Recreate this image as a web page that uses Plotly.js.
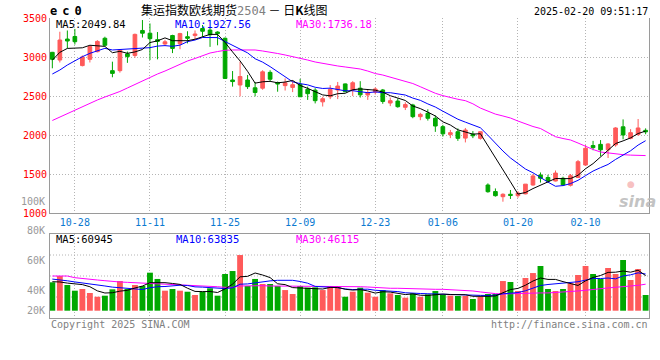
<!DOCTYPE html>
<html><head><meta charset="utf-8">
<script src="https://cdn.plot.ly/plotly-3.0.1.min.js"></script>
<style>html,body{margin:0;padding:0;background:#fff}#chart{width:660px;height:360px}</style>
</head><body><div id="chart"></div>
<script>
// ---- data ----
const dates = ['10-23','10-24','10-25','10-28','10-29','10-30','10-31','11-01','11-04','11-05',
'11-06','11-07','11-08','11-11','11-12','11-13','11-14','11-15','11-18','11-19',
'11-20','11-21','11-22','11-25','11-26','11-27','11-28','11-29','12-02','12-03',
'12-04','12-05','12-06','12-09','12-10','12-11','12-12','12-13','12-16','12-17',
'12-18','12-19','12-20','12-23','12-24','12-25','12-26','12-27','12-30','12-31',
'01-02','01-03','01-06','01-07','01-08','01-09','01-10','01-13','01-14','01-15',
'01-16','01-17','01-20','01-21','01-22','01-23','01-24','01-27','02-05','02-06',
'02-07','02-10','02-11','02-12','02-13','02-14','02-17','02-18','02-19','02-20'];
const open  = [3060,2961,3230,3263,2890,2970,3068,3240,2825,2825, 3040,3020,3340,3305,3222,3167,3275,3170,3260,3275,
3365,3345,3320,3240,2705,2641,2705,2605,2600,2803, 2670,2633,2610,2650,2585,2575,2425,2490,2577,2655,
2577,2600,2513,2550,2577,2410,2435,2355,2385,2235, 2278,2214,2107,2005,2042,1960,2010,1957,1359,1275,
1209,1240,1222,1245,1359,1487,1455,1410,1445,1355, 1455,1615,1865,1880,1810,1872,2105,1957,2005,2060];
const high  = [3065,3324,3340,3360,3020,3150,3215,3260,2940,3095, 3070,3300,3474,3430,3320,3220,3285,3310,3330,3340,
3410,3380,3330,3250,2820,2940,2770,2680,2830,2830, 2685,2725,2700,2720,2620,2600,2490,2640,2680,2660,
2690,2690,2580,2610,2590,2480,2470,2420,2400,2285, 2330,2250,2130,2065,2085,2090,2050,2045,1380,1315,
1252,1295,1280,1370,1500,1520,1490,1545,1465,1500, 1680,1870,1925,1935,1895,2100,2200,2075,2205,2085];
const low   = [2855,2930,3110,3160,2880,2930,3060,3140,2740,2800, 2925,2990,3250,2960,2970,3140,3050,3100,3175,3230,
3260,3130,3150,2720,2620,2495,2590,2495,2580,2680, 2555,2570,2550,2490,2450,2405,2365,2460,2460,2550,
2500,2480,2450,2520,2400,2370,2350,2320,2215,2190, 2185,2040,1980,1960,1925,1905,1960,1940,1260,1210,
1145,1180,1195,1240,1350,1390,1390,1405,1345,1340, 1450,1605,1805,1730,1705,1850,1945,1945,1990,2010];
const close = [2970,3218,3205,3196,3000,3134,3200,3150,2790,3090, 3005,3290,3305,3235,3200,3195,3110,3300,3240,3295,
3330,3285,3300,2725,2685,2750,2620,2545,2810,2715, 2655,2670,2645,2490,2530,2440,2465,2585,2628,2555,
2670,2515,2545,2590,2430,2440,2363,2390,2235,2265, 2214,2115,2015,2030,1957,2064,1990,2042,1273,1222,
1240,1225,1255,1370,1475,1445,1410,1512,1360,1478, 1658,1830,1838,1810,1885,2090,2000,2030,2090,2040];
const volume = [49400,60300,44700,34800,37800,30800,24300,26100,37200,51600, 37800,44700,43000,66100,55200,34800,37800,34800,33000,27300,
33000,38900,26100,63800,69000,96800,43000,55200,46400,46400, 43000,35900,29000,43000,40000,40600,35900,43000,43000,24300,
33100,40000,31400,24300,35900,30200,27300,22600,30200,24300, 28400,34200,27300,26200,25600,25600,20400,24300,29000,29000,
51600,49900,34200,56900,65500,77700,37800,34200,37800,47600, 62100,77700,63800,55200,74300,63800,88200,53400,72500,27300];
// averages whose windows start before the first visible day
const ma5Head  = [2960,3060,3110,3115];
const ma10Head = [2782,2833,2897,2953,3004,3047,3077,3111,3090];
const ma30 = [2186,2231,2276,2320,2365,2410,2449,2487,2519,2558, 2603,2647,2699,2744,2782,2820,2865,2910,2949,2981,
3013,3051,3070,3086,3090,3090,3090,3090,3077,3064, 3045,3026,3006,2990,2961,2936,2917,2897,2885,2872,
2859,2846,2820,2788,2769,2744,2718,2692,2660,2619, 2577,2535,2505,2480,2458,2440,2400,2345,2305,2268,
2244,2218,2179,2141,2109,2083,2032,1978,1955,1936, 1897,1853,1814,1782,1769,1756,1748,1742,1738,1736];
const volMa5Head  = [50400,50000,48000,47000];
const volMa10Head = [55000,54000,52000,50000,48500,47000,45000,43000,41000];
const volMa30 = [60300,60300,60300,57400,55700,54500,53400,52200,50400,49900, 49300,48700,48700,48100,47600,47000,46400,45900,44700,44100,
43500,43000,41700,40700,40700,43000,43500,43500,43500,43000, 43000,43000,42300,41700,41700,42300,43000,43000,43000,42300,
41700,41700,41200,40100,39600,39000,39000,38400,38400,38400, 37800,37200,37200,36600,36000,35500,34300,32600,30900,29700,
29100,29700,30300,30300,30300,30900,30900,31500,32000,33200, 34300,35500,37200,38400,39600,40700,42300,43000,44100,46100];
const tickDates = ['10-28','11-11','11-25','12-09','12-23','01-06','01-20','02-10'];
const priceTicks = [3500,3000,2500,2000,1500,1000];
const volLabels = ['80K','60K','40K','20K'];

// ---- helpers ----
function movingAvg(vals, n, head){
  return vals.map((v,i)=> i < n-1 ? head[i] : vals.slice(i-n+1,i+1).reduce((a,b)=>a+b,0)/n);
}
const RED='#ff5a5a', GREEN='#00a800';
const MONO='DejaVu Sans Mono, Liberation Mono, monospace';
const W=660,H=360;
const px=x=>x/W, py=y=>1-y/H;

const ma5 = movingAvg(close,5,ma5Head), ma10 = movingAvg(close,10,ma10Head);
const vma5 = movingAvg(volume,5,volMa5Head), vma10 = movingAvg(volume,10,volMa10Head);
const volColors = close.map((c,i)=> c>=open[i] ? RED : GREEN);

function line(y, color, xa, ya){return {type:'scatter',mode:'lines',x:dates,y:y,xaxis:xa,yaxis:ya,line:{color:color,width:1},hoverinfo:'skip'};}

const traces = [
 {type:'candlestick',x:dates,open:open,high:high,low:low,close:close,xaxis:'x',yaxis:'y',
  increasing:{line:{color:RED,width:1},fillcolor:RED},decreasing:{line:{color:GREEN,width:1},fillcolor:GREEN},
  whiskerwidth:0,hoverinfo:'skip'},
 line(ma30,'#ff00ff','x','y'), line(ma10,'#0000ff','x','y'), line(ma5,'#000000','x','y'),
 {type:'bar',x:dates,y:volume,xaxis:'x2',yaxis:'y2',marker:{color:volColors,line:{width:0}},width:0.78,hoverinfo:'skip'},
 line(volMa30,'#ff00ff','x2','y2'), line(vma10,'#0000ff','x2','y2'), line(vma5,'#000000','x2','y2')
];

const GRID='#b4b4b4', AX='#9a9a9a';
const xdom=[px(50),px(649)], xr=[-0.31,79.45];
const common = {type:'category',domain:xdom,range:xr,tickmode:'array',tickvals:tickDates,ticktext:tickDates,
  showgrid:true,gridcolor:GRID,griddash:'1px,2px',gridwidth:1,ticks:'',zeroline:false,fixedrange:true};

function ann(text,x,y,xanchor,color,size,family,extra){
  return Object.assign({text:text,x:px(x),y:py(y),xref:'paper',yref:'paper',xanchor:xanchor,yanchor:'middle',
   showarrow:false,font:{family:family||MONO,size:size||10,color:color||'#000'}},extra||{});
}
const annotations = [
 ann('<b><span style="letter-spacing:5px">ec0</span></b>',48,11,'left','#000',12),
 ann('集运指数欧线期货<span style="color:#808080;font-family:DejaVu Sans Mono">2504</span> － 日<b>K</b>线图',139,9.3,'left','#000',12,'Noto Sans CJK SC'),
 ann('2025-02-20 09:51:17',650,11,'right','#000',10),
 ann('MA5:2049.84',54,24.2,'left','#000',10.5),
 ann('MA10:1927.56',173,24.2,'left','#0000ff',10.5),
 ann('MA30:1736.18',294,24.2,'left','#ff00ff',10.5),
 ann('MA5:60945',54,238.5,'left','#000',10.5),
 ann('MA10:63835',174,238.5,'left','#0000ff',10.5),
 ann('MA30:46115',294,238.5,'left','#ff00ff',10.5),
 ann('100K',47,201,'right','#999',10),
 ann('Copyright 2025 SINA.COM',49,324,'left','#808080',10),
 ann('http://finance.sina.com.cn',650,324,'right','#808080',10),
 ann('<b><i>sina</i></b>',637,201,'center','rgba(185,185,185,0.85)',16,'DejaVu Sans'),
 ann('●',631,183.5,'center','rgba(240,140,140,0.55)',9,'DejaVu Sans')
];
const volLabelY=[230.7,260.7,290,310.3];
volLabels.forEach((t,k)=>annotations.push(ann(t,47,volLabelY[k],'right','#999',10)));

const shapes=[0.25,0.5,0.75].map(f=>({type:'line',xref:'x2 domain',yref:'y2 domain',x0:0,x1:1,y0:f,y1:f,layer:'below',
  line:{color:GRID,width:1,dash:'1px,2px'}}));

const layout = {
 width:W,height:H,margin:{l:0,r:0,t:0,b:0},paper_bgcolor:'#fff',plot_bgcolor:'#fff',showlegend:false,
 hovermode:false,dragmode:false,bargap:0.2,
 xaxis:Object.assign({},common,{anchor:'y',showline:true,linecolor:AX,linewidth:1,rangeslider:{visible:false},
   tickfont:{family:MONO,size:10,color:'#0b7ad1'}}),
 yaxis:{domain:[py(213),py(18)],range:[1000,3500],tickmode:'array',tickvals:priceTicks,showgrid:true,gridcolor:GRID,
   griddash:'1px,2px',showline:true,mirror:true,linecolor:AX,ticks:'',zeroline:false,fixedrange:true,
   tickfont:{family:MONO,size:10,color:'#ff0000'}},
 xaxis2:Object.assign({},common,{anchor:'y2',showticklabels:false,showline:true,mirror:true,linecolor:AX,linewidth:1,
   rangeslider:{visible:false}}),
 yaxis2:{domain:[py(318),py(234)],range:[-12700,133400],showticklabels:false,showgrid:false,showline:true,mirror:true,
   linecolor:AX,ticks:'',zeroline:false,fixedrange:true},
 annotations:annotations,shapes:shapes
};
Plotly.newPlot('chart',traces,layout,{staticPlot:true,displayModeBar:false});
</script></body></html>
